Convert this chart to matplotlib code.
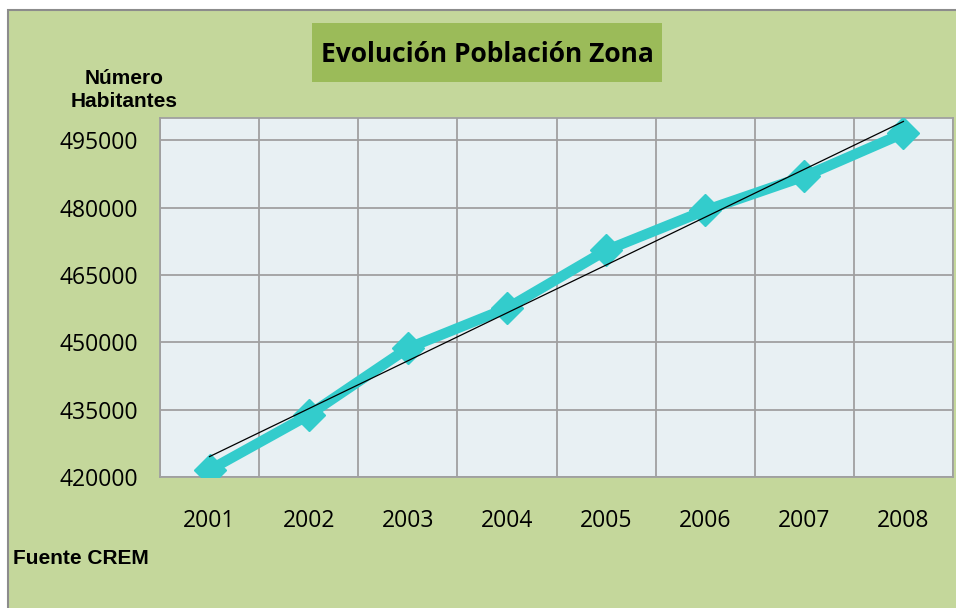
import numpy as np
import matplotlib.pyplot as plt
from matplotlib.patches import Rectangle

years = ['2001', '2002', '2003', '2004', '2005', '2006', '2007', '2008']
habitantes = [421560, 433800, 448700, 457600, 470500, 479400, 487000, 496600]
y_ticks = [420000, 435000, 450000, 465000, 480000, 495000]

title = 'Evolución Población Zona'
y_label = 'Número\nHabitantes'
source = 'Fuente CREM'


def main():
    W, H = 956, 608
    fig = plt.figure(figsize=(W / 100, H / 100), dpi=100)
    fig.patch.set_facecolor('white')

    # green chart background with grey border
    fig.patches.append(Rectangle((8 / W, -0.01), 1.0, 1 - 10 / H + 0.01, transform=fig.transFigure,
                                 facecolor='#c4d79b', edgecolor='#8c8c8c', lw=1.5, zorder=-2))
    # title box
    fig.patches.append(Rectangle((312 / W, 1 - 82 / H), (662 - 312) / W, 59 / H,
                                 transform=fig.transFigure, facecolor='#9bbb59',
                                 edgecolor='none', zorder=-1))

    # plot area in pixels: left 160, top 118, right 953, bottom 477
    ax = fig.add_axes([160 / W, 1 - 477 / H, (953 - 160) / W, (477 - 118) / H])
    ax.set_facecolor('#e8f0f3')

    x = np.arange(len(years))
    ax.plot(x, habitantes, color='#33cccc', lw=7.5, marker='D', markersize=16,
            solid_joinstyle='miter', zorder=3)

    # linear trend line
    k, b = np.polyfit(x, habitantes, 1)
    ax.plot(x, k * x + b, color='black', lw=0.9, zorder=4)

    ax.set_xlim(-0.5, len(years) - 0.5)
    ax.set_ylim(420000, 500000)
    ax.set_yticks(y_ticks)
    ax.set_yticklabels([str(v) for v in y_ticks], fontsize=16.5, family='Open Sans')
    ax.set_xticks(x)
    ax.set_xticklabels(years, fontsize=16.5, family='Open Sans')
    ax.set_xticks(np.arange(len(years) + 1) - 0.5, minor=True)
    ax.tick_params(axis='both', which='both', length=0)
    ax.tick_params(axis='x', pad=23)
    ax.tick_params(axis='y', pad=16)

    ax.grid(axis='y', which='major', color='#a0a0a0', lw=1.3)
    ax.grid(axis='x', which='minor', color='#a0a0a0', lw=1.3)
    ax.set_axisbelow(True)
    for s in ax.spines.values():
        s.set_color('#a0a0a0')
        s.set_linewidth(1.3)

    fig.text(487 / W, 1 - 54 / H, title, ha='center', va='center', fontsize=19,
             family='Open Sans', fontweight='bold')

    fig.text(124 / W, 1 - 90 / H, y_label, ha='center', va='center', fontsize=15,
             family='Liberation Sans', fontweight='bold', linespacing=1.3)
    fig.text(13 / W, 1 - 558 / H, source, ha='left', va='center', fontsize=15,
             family='Liberation Sans', fontweight='bold')

    fig.savefig('out.png', dpi=100, facecolor=fig.get_facecolor())


if __name__ == '__main__':
    main()
